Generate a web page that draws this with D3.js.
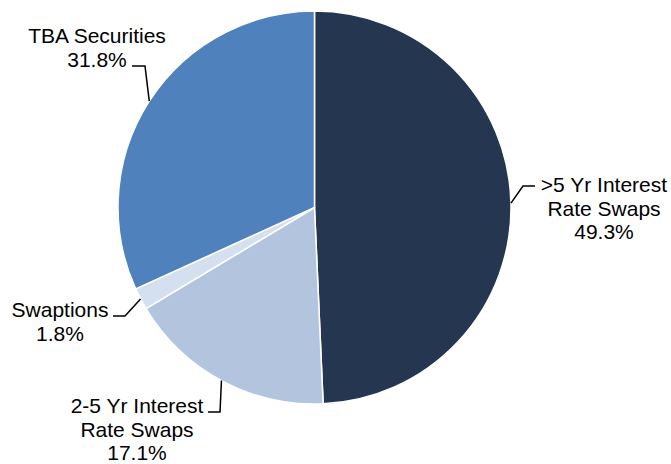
<!DOCTYPE html>
<html>
<head>
<meta charset="utf-8">
<script src="https://cdn.jsdelivr.net/npm/d3@7"></script>
<style>
  html, body { margin: 0; padding: 0; background: #fff; }
  svg { display: block; }
  text { font-family: "Liberation Sans", Arial, sans-serif; font-size: 21px; fill: #000; }
</style>
</head>
<body>
<svg id="chart" width="671" height="464"></svg>
<script>
// Portfolio composition (percent of total), clockwise from 12 o'clock
const categories = [">5 Yr Interest Rate Swaps", "2-5 Yr Interest Rate Swaps", "Swaptions", "TBA Securities"];
const shares = [49.3, 17.1, 1.8, 31.8];
const labelLines = [
  [">5 Yr Interest", "Rate Swaps"],
  ["2-5 Yr Interest", "Rate Swaps"],
  ["Swaptions"],
  ["TBA Securities"]
];
const colors = ["#243650", "#b3c5de", "#d4e0ef", "#4f81bd"];

// Label placement: text centre x, first baseline y, leader elbow and leader end
const labelLayout = [
  { x: 604, y: 192, elbow: [523, 186], end: [535, 186] },
  { x: 137, y: 413, elbow: [220, 412], end: [208, 412] },
  { x: 60,  y: 317, elbow: [125, 316], end: [113, 316] },
  { x: 97,  y: 43,  elbow: [145, 66],  end: [132, 66] }
];

const svg = d3.select("#chart");
const cx = 314.5, cy = 207.5, radius = 196.5;
const lineH = 23.5;

const pie = d3.pie().sort(null).value(d => d)(shares);
const arc = d3.arc().innerRadius(0).outerRadius(radius);

const g = svg.append("g").attr("transform", `translate(${cx},${cy})`);

g.selectAll("path.slice")
  .data(pie)
  .join("path")
  .attr("class", "slice")
  .attr("d", arc)
  .attr("fill", (d, i) => colors[i])
  .attr("stroke", "#fff")
  .attr("stroke-width", 1.5)
  .attr("stroke-linejoin", "round");

// Leader lines from the rim at each slice's mid-angle to its label
const fmt = d3.format(".1f");
pie.forEach((d, i) => {
  const a = (d.startAngle + d.endAngle) / 2;
  const rim = [cx + radius * Math.sin(a), cy - radius * Math.cos(a)];
  const L = labelLayout[i];
  svg.append("path")
    .attr("d", d3.line()([rim, L.elbow, L.end]))
    .attr("fill", "none")
    .attr("stroke", "#000")
    .attr("stroke-width", 1.5);

  const lines = labelLines[i].concat([fmt(shares[i]) + "%"]);
  const t = svg.append("text").attr("text-anchor", "middle");
  lines.forEach((s, k) => {
    t.append("tspan").attr("x", L.x).attr("y", L.y + k * lineH).text(s);
  });
});
</script>
</body>
</html>
